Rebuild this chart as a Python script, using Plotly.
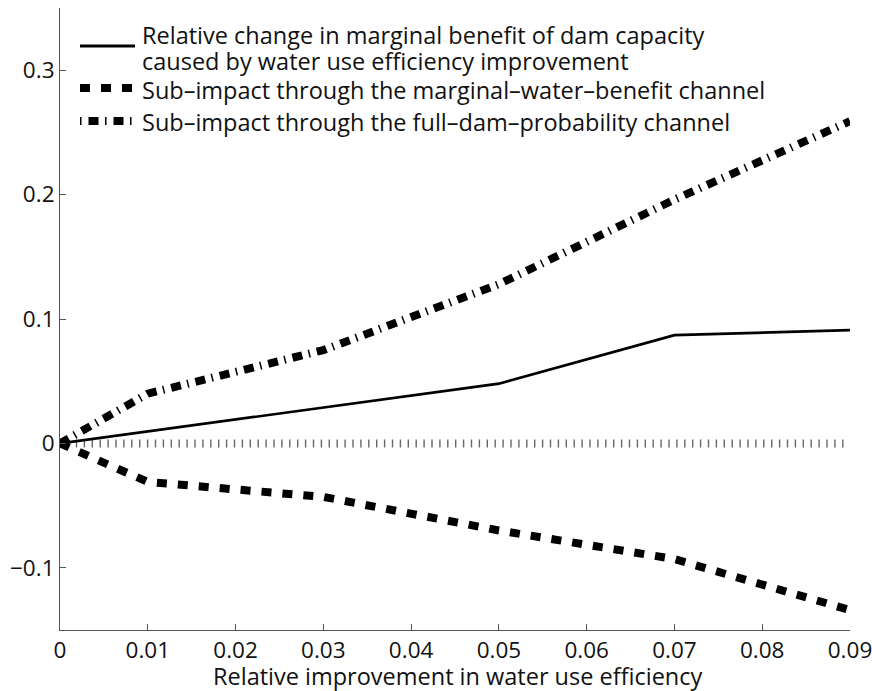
import plotly.graph_objects as go

# Data
x_pts = [0, 0.01, 0.03, 0.05, 0.07, 0.09]
total_change = [0, 0.0095, 0.029, 0.048, 0.087, 0.091]
water_benefit_channel = [0, -0.031, -0.043, -0.070, -0.093, -0.134]
full_dam_channel = [0, 0.040, 0.075, 0.128, 0.196, 0.259]
zero_x = [0, 0.09]
zero_y = [0, 0]

x_ticks = [0, 0.01, 0.02, 0.03, 0.04, 0.05, 0.06, 0.07, 0.08, 0.09]
x_tick_text = ["0", "0.01", "0.02", "0.03", "0.04", "0.05", "0.06", "0.07", "0.08", "0.09"]
y_ticks = [-0.1, 0, 0.1, 0.2, 0.3]
y_tick_text = ["\u22120.1", "0", "0.1", "0.2", "0.3"]

legend_labels = [
    ["Relative change in marginal benefit of dam capacity",
     "caused by water use efficiency improvement"],
    ["Sub\u2013impact through the marginal\u2013water\u2013benefit channel"],
    ["Sub\u2013impact through the full\u2013dam\u2013probability channel"],
]

FONT = "Open Sans"
FS = 23.5
TICK_FS = 22.5

# Geometry (pixels)
W, H = 872, 691
L, R, T, B = 60, 22, 8, 61
pw, ph = W - L - R, H - T - B

def px_x(p):
    return (p - L) / pw

def px_y(p):
    return (H - B - p) / ph

fig = go.Figure()

fig.add_trace(go.Scatter(x=zero_x, y=zero_y, mode="lines",
                         line=dict(color="#666666", width=8, dash="1.4px,6.5px"),
                         hoverinfo="skip"))
fig.add_trace(go.Scatter(x=x_pts, y=water_benefit_channel, mode="lines",
                         line=dict(color="black", width=8, dash="10px,11px")))
fig.add_trace(go.Scatter(x=x_pts, y=full_dam_channel, mode="lines",
                         line=dict(color="black", width=8, dash="10px,6.5px,1.5px,7px")))
fig.add_trace(go.Scatter(x=x_pts, y=total_change, mode="lines",
                         line=dict(color="black", width=2.7)))

# Manual legend
shapes = []
annotations = []
sample_x0, sample_x1 = px_x(80), px_x(135)
rows = [
    (46, dict(color="black", width=3, dash="solid"), [35, 61]),
    (88, dict(color="black", width=8, dash="10px,11px"), [90]),
    (121, dict(color="black", width=8, dash="1.5px,7px,10px,6.5px"), [122]),
]
for (ly, ldict, text_ys), labels in zip(rows, legend_labels):
    shapes.append(dict(type="line", xref="paper", yref="paper",
                       x0=sample_x0, x1=sample_x1, y0=px_y(ly), y1=px_y(ly),
                       line=ldict))
    for ty, lab in zip(text_ys, labels):
        annotations.append(dict(text=lab, xref="paper", yref="paper",
                                x=px_x(140), y=px_y(ty), xanchor="left", yanchor="middle",
                                showarrow=False, font=dict(family=FONT, size=FS, color="#111")))

# x-axis title as annotation to control placement
annotations.append(dict(text="Relative improvement in water use efficiency",
                        xref="paper", yref="paper", x=px_x(458), y=px_y(676),
                        xanchor="center", yanchor="middle", showarrow=False,
                        font=dict(family=FONT, size=FS, color="#111")))

fig.update_layout(
    template="none",
    width=W, height=H,
    margin=dict(l=L, r=R, t=T, b=B, autoexpand=False),
    paper_bgcolor="white", plot_bgcolor="white",
    showlegend=False,
    font=dict(family=FONT, size=FS, color="#111"),
    shapes=shapes, annotations=annotations,
    xaxis=dict(range=[0, 0.09], tickvals=x_ticks, ticktext=x_tick_text,
               ticks="inside", ticklen=6, tickcolor="#555", showline=True,
               linecolor="#555", linewidth=1, showgrid=False, zeroline=False,
               automargin=False, ticklabeloverflow="allow",
               tickfont=dict(family=FONT, size=TICK_FS)),
    yaxis=dict(range=[-0.15, 0.35], tickvals=y_ticks, ticktext=y_tick_text,
               ticks="inside", ticklen=6, tickcolor="#555", showline=True,
               linecolor="#555", linewidth=1, showgrid=False, zeroline=False,
               automargin=False, ticklabeloverflow="allow",
               tickfont=dict(family=FONT, size=TICK_FS)),
)

fig.write_html("out.html",
               config={"displayModeBar": False},
               post_script="document.body.style.margin='0px';document.body.style.overflow='hidden';")
